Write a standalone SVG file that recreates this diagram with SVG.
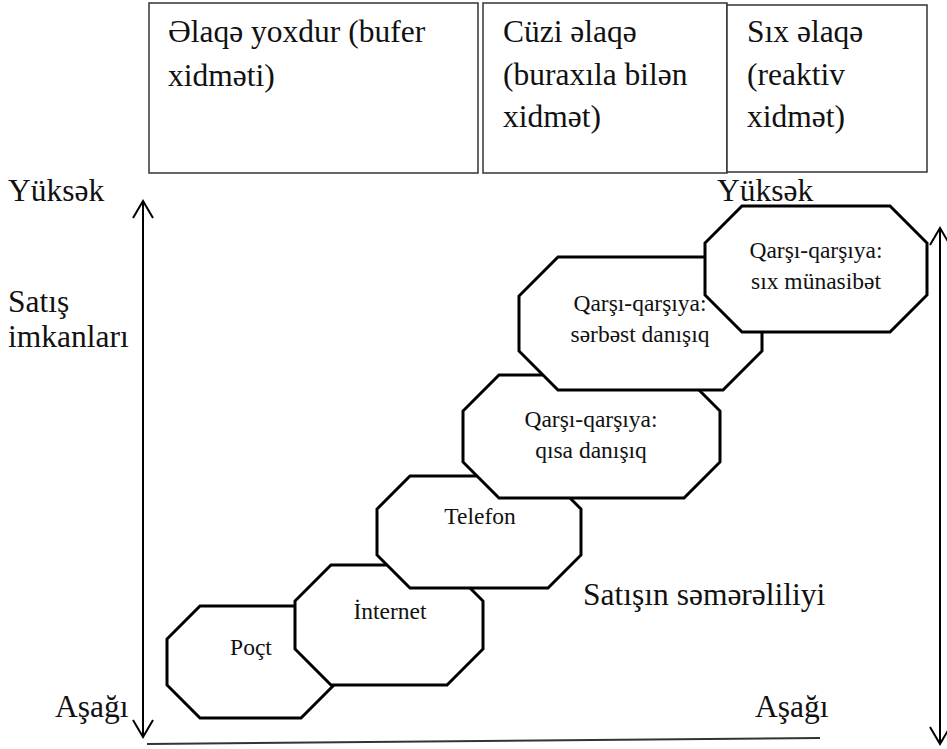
<svg xmlns="http://www.w3.org/2000/svg" width="947" height="749" viewBox="0 0 947 749">
  <style>
    text { font-family: "Liberation Serif", "Times New Roman", "DejaVu Serif", serif; fill: #111; }
    .big { font-size: 31.5px; }
    .small { font-size: 23.5px; text-anchor: middle; }
    .box { fill: #fff; stroke: #333; stroke-width: 1.5; }
    .oct { fill: #fff; stroke: #000; stroke-width: 3; stroke-linejoin: miter; }
    .axis { fill: none; stroke: #000; stroke-width: 2; }
  </style>
  <defs>
    <marker id="head" markerUnits="userSpaceOnUse" markerWidth="24" markerHeight="24" refX="0" refY="0" viewBox="-20 -12 24 24" orient="auto-start-reverse">
      <path d="M-17,-10 L0,0 L-17,10" fill="none" stroke="#000" stroke-width="2"/>
    </marker>
  </defs>

  <rect width="947" height="749" fill="#fff"/>

  <!-- header boxes -->
  <g id="box-no-contact">
    <rect class="box" x="149" y="3" width="329" height="170"/>
    <text class="big" x="168" y="42">Əlaqə yoxdur (bufer</text>
    <text class="big" x="168" y="86">xidməti)</text>
  </g>
  <g id="box-slight-contact">
    <rect class="box" x="483" y="3" width="244" height="170"/>
    <text class="big" x="503" y="42">Cüzi əlaqə</text>
    <text class="big" x="503" y="85">(buraxıla bilən</text>
    <text class="big" x="503" y="127">xidmət)</text>
  </g>
  <g id="box-close-contact">
    <rect class="box" x="727" y="5" width="200" height="167"/>
    <text class="big" x="747" y="42">Sıx əlaqə</text>
    <text class="big" x="747" y="85">(reaktiv</text>
    <text class="big" x="747" y="127">xidmət)</text>
  </g>

  <!-- axis labels -->
  <g id="labels">
    <text class="big" x="8" y="201">Yüksək</text>
    <text class="big" x="8" y="312">Satış</text>
    <text class="big" x="8" y="347">imkanları</text>
    <text class="big" x="55" y="717">Aşağı</text>
    <text class="big" x="717" y="201">Yüksək</text>
    <text class="big" x="583" y="605">Satışın səmərəliliyi</text>
    <text class="big" x="755" y="717">Aşağı</text>
  </g>

  <!-- connectors: axes -->
  <g id="connectors">
    <line class="axis" x1="143" y1="201" x2="143" y2="737" marker-start="url(#head)" marker-end="url(#head)"/>
    <line class="axis" x1="940" y1="228" x2="940" y2="744" marker-start="url(#head)" marker-end="url(#head)"/>
    <line x1="147" y1="744" x2="820" y2="738" stroke="#333" stroke-width="2"/>
  </g>

  <!-- channel octagons, lowest first -->
  <g id="node-post">
    <polygon class="oct" points="200,606 301,606 334,639 334,685 301,718 200,718 167,685 167,639"/>
    <text class="small" x="251" y="655">Poçt</text>
  </g>
  <g id="node-internet">
    <polygon class="oct" points="331,565 447,565 483,601 483,649 447,685 331,685 295,649 295,601"/>
    <text class="small" x="390" y="619">İnternet</text>
  </g>
  <g id="node-phone">
    <polygon class="oct" points="410,476 548,476 581,509 581,555 548,588 410,588 377,555 377,509"/>
    <text class="small" x="480" y="524">Telefon</text>
  </g>
  <g id="node-short-talk">
    <polygon class="oct" points="499,375 684,375 720,411 720,462 684,498 499,498 463,462 463,411"/>
    <text class="small" x="591" y="427">Qarşı-qarşıya:</text>
    <text class="small" x="591" y="458">qısa danışıq</text>
  </g>
  <g id="node-free-talk">
    <polygon class="oct" points="558,257 723,257 762,296 762,351 723,390 558,390 519,351 519,296"/>
    <text class="small" x="640" y="311">Qarşı-qarşıya:</text>
    <text class="small" x="640" y="342">sərbəst danışıq</text>
  </g>
  <g id="node-close-relation">
    <polygon class="oct" points="742,206 890,206 927,243 927,295 890,332 742,332 705,295 705,243"/>
    <text class="small" x="816" y="258">Qarşı-qarşıya:</text>
    <text class="small" x="816" y="289">sıx münasibət</text>
  </g>
</svg>
